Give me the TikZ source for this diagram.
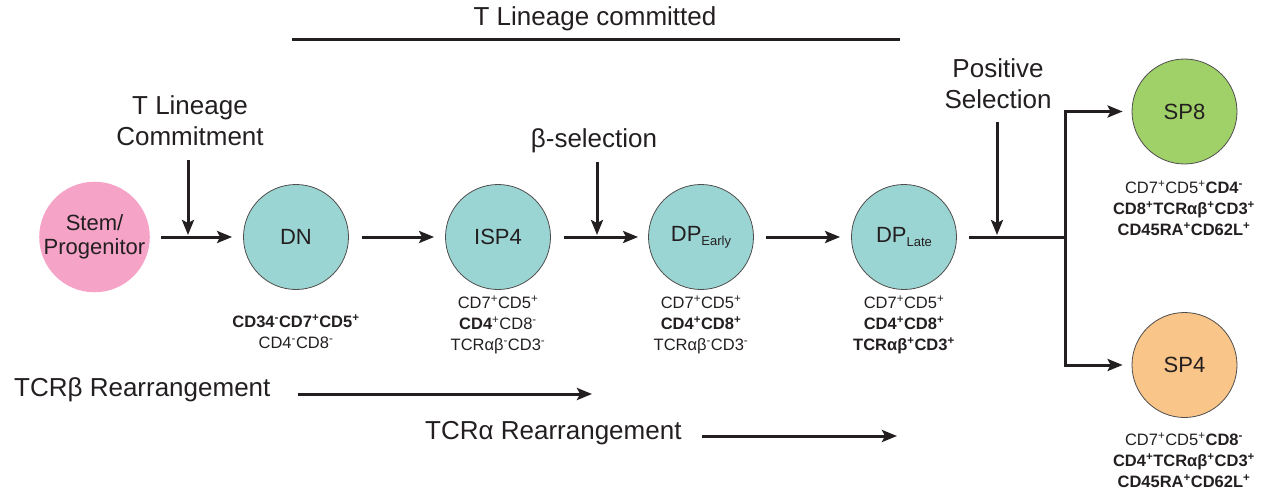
\documentclass[tikz,border=0pt]{standalone}
\usepackage{fontspec}
\setmainfont{Liberation Sans}
\usetikzlibrary{arrows.meta}
\definecolor{ink}{HTML}{231F20}
\definecolor{stemcol}{HTML}{F5A3C7}
\definecolor{tealcol}{HTML}{9BD5D3}
\definecolor{greencol}{HTML}{A0D169}
\definecolor{orangecol}{HTML}{F9C588}
\newcommand\mysup[1]{\textsuperscript{#1}}
\newcommand\mysub[1]{\raisebox{-4pt}{\fontsize{13}{13}\selectfont #1}}
\begin{document}
\begin{tikzpicture}[x=1pt,y=-1pt,
  cell/.style={circle,minimum size=105pt,inner sep=0pt,draw=ink!80,line width=0.8pt,text=ink,
    font=\fontsize{22}{24}\selectfont,align=center},
  lbl/.style={text=ink,font=\fontsize{26}{31}\selectfont,align=center,inner sep=0pt},
  markertext/.style={text=ink,font=\fontsize{16.5}{21}\selectfont,align=center,inner sep=0pt},
  conn/.style={draw=ink,line width=3pt,-{Stealth[length=15pt,width=12pt,inset=3pt]}},
  plain/.style={draw=ink,line width=3pt}]
\useasboundingbox (0,0) rectangle (1269,492);
% cells
\node[cell,draw=none,fill=stemcol] (stem) at (94.5,237) {Stem/\\Progenitor};
\node[cell,fill=tealcol] (dn) at (296,237) {DN};
\node[cell,fill=tealcol] (isp) at (498,237) {ISP4};
\node[cell,fill=tealcol] (dpe) at (701,237) {DP\mysub{Early}};
\node[cell,fill=tealcol] (dpl) at (904,237) {DP\mysub{Late}};
\node[cell,fill=greencol] (sp8) at (1184.5,111.5) {SP8};
\node[cell,fill=orangecol] (sp4) at (1184.5,365) {SP4};
% labels
\node[lbl] (tlc) at (595,19) {T Lineage committed};
\coordinate (rl) at (292,40);
\coordinate (rr) at (900,40);
\draw[plain] (rl) -- (rr);
\node[lbl] (commit) at (190,121) {T Lineage\\Commitment};
\node[lbl] (beta) at (594,141) {β-selection};
\node[lbl] (possel) at (998,84) {Positive\\Selection};
% main arrows
\draw[conn,shorten <=11pt,shorten >=11pt] (stem) -- (dn);
\draw[conn,shorten <=13pt,shorten >=11pt] (dn) -- (isp);
\draw[conn,shorten <=13pt,shorten >=10pt] (isp) -- (dpe);
\draw[conn,shorten <=12pt,shorten >=11pt] (dpe) -- (dpl);
\coordinate (junc) at (1065,237);
\draw[plain,shorten <=12pt] (dpl.east) -- (junc);
\draw[conn,shorten >=9pt] (junc) |- (sp8);
\draw[conn,shorten >=9pt] (junc) |- (sp4);
% vertical arrows
\coordinate (c1a) at (188,160); \coordinate (c1b) at (188,235);
\coordinate (c2a) at (597,162); \coordinate (c2b) at (597,235);
\coordinate (c3a) at (997,122); \coordinate (c3b) at (997,235);
\draw[conn] (c1a) -- (c1b);
\draw[conn] (c2a) -- (c2b);
\draw[conn] (c3a) -- (c3b);
% markers
\node[markertext] (mdn) at (296,332) {\textbf{CD34\mysup{-}CD7\mysup{+}CD5\mysup{+}}\\CD4\mysup{-}CD8\mysup{-}};
\node[markertext] (misp) at (498,325) {CD7\mysup{+}CD5\mysup{+}\\\textbf{CD4}\mysup{+}CD8\mysup{-}\\TCRαβ\mysup{-}CD3\mysup{-}};
\node[markertext] (mdpe) at (701,325) {CD7\mysup{+}CD5\mysup{+}\\\textbf{CD4\mysup{+}CD8\mysup{+}}\\TCRαβ\mysup{-}CD3\mysup{-}};
\node[markertext] (mdpl) at (904,325) {CD7\mysup{+}CD5\mysup{+}\\\textbf{CD4\mysup{+}CD8\mysup{+}}\\\textbf{TCRαβ\mysup{+}CD3\mysup{+}}};
\node[markertext] (msp8) at (1184,208) {CD7\mysup{+}CD5\mysup{+}\textbf{CD4\mysup{-}}\\\textbf{CD8\mysup{+}TCRαβ\mysup{+}CD3\mysup{+}}\\\textbf{CD45RA\mysup{+}CD62L\mysup{+}}};
\node[markertext] (msp4) at (1184,460) {CD7\mysup{+}CD5\mysup{+}\textbf{CD8\mysup{-}}\\\textbf{CD4\mysup{+}TCRαβ\mysup{+}CD3\mysup{+}}\\\textbf{CD45RA\mysup{+}CD62L\mysup{+}}};
% rearrangements
\node[lbl,anchor=west] (tcrb) at (14,390) {TCRβ Rearrangement};
\node[lbl,anchor=west] (tcra) at (425,433) {TCRα Rearrangement};
\coordinate (tba) at (298,394); \coordinate (tbb) at (592,394);
\coordinate (taa) at (702,436); \coordinate (tab) at (897,436);
\draw[conn] (tba) -- (tbb);
\draw[conn] (taa) -- (tab);
\end{tikzpicture}
\end{document}
